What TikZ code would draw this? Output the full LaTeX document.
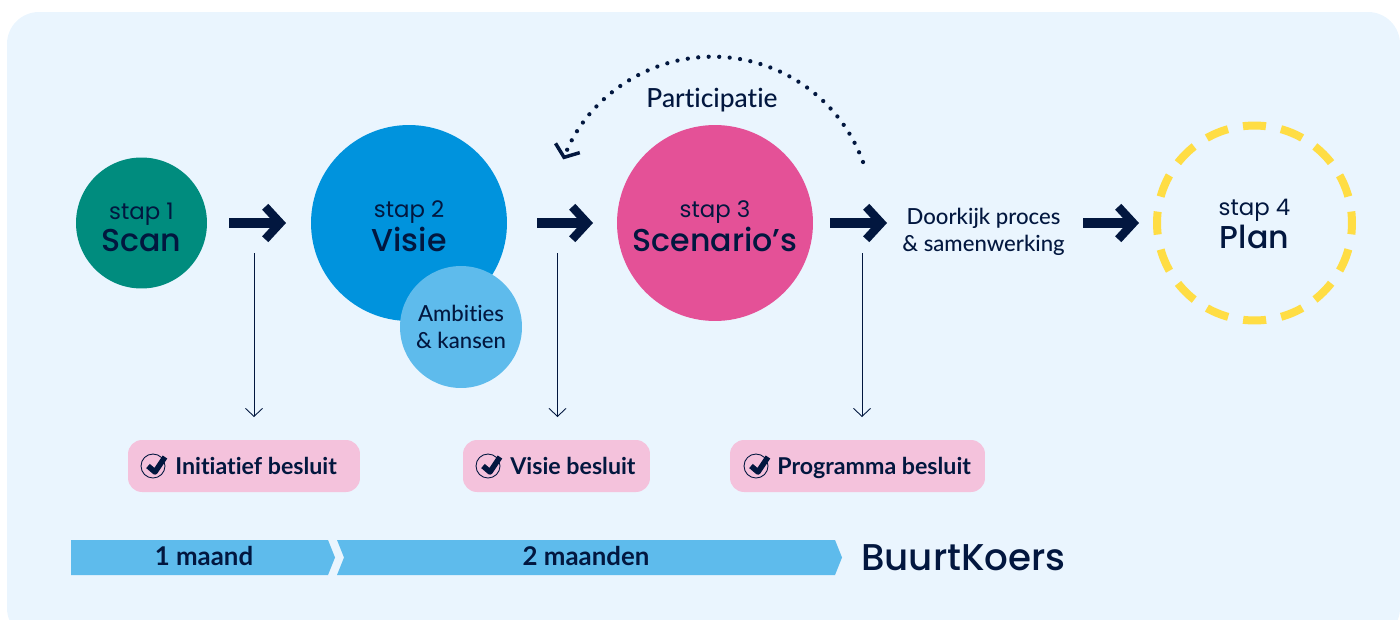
\documentclass[tikz,border=0pt]{standalone}
\usepackage{fontspec}
\setmainfont{Lato Medium}[BoldFont=Lato Bold, Ligatures=NoCommon]
\newfontfamily\headfont{Poppins}
\newfontfamily\headmedium{Poppins Medium}
\usetikzlibrary{positioning, calc, arrows.meta}
\definecolor{panelblue}{HTML}{EAF5FE}
\definecolor{navy}{HTML}{02173F}
\definecolor{scangreen}{HTML}{008C7E}
\definecolor{visieblue}{HTML}{0093DD}
\definecolor{lightblue}{HTML}{5EBBEC}
\definecolor{scenpink}{HTML}{E45197}
\definecolor{planyellow}{HTML}{FFDD44}
\definecolor{besluitpink}{HTML}{F4C2DC}
\newcommand{\stapfont}{\headfont\fontsize{13}{18}\selectfont}
\newcommand{\titelfont}{\headmedium\fontsize{18}{18}\selectfont}
\newcommand{\bodyfont}{\fontsize{12.6}{15.3}\selectfont}
\newcommand{\boldfont}{\bfseries\fontsize{13.2}{15}\selectfont}
\newcommand{\maandfont}{\bfseries\fontsize{14.7}{15}\selectfont}
\tikzset{
  stapcircle/.style={circle, inner sep=0, outer sep=0, text=navy, align=center, text height=32.3pt},
  blockarrow/.style={draw=navy, line width=0.2cm, -{Straight Barb[length=0.3cm, width=0.65cm, line width=0.17cm]}},
  thinarrow/.style={draw=navy, line width=0.5pt, -{Straight Barb[length=0.16cm, width=0.34cm, line width=0.5pt]}},
  besluit/.style={fill=besluitpink, rounded corners=0.28cm, inner sep=0, outer sep=0, text=navy, font=\boldfont},
  checkmark/.pic={
    \draw[navy, line width=0.5pt] (0,0) circle[radius=12];
    \draw[navy, line width=0.11cm, line join=round] (-5,0) -- (2,6) -- (12,-9);
  }
}
\begin{document}
\begin{tikzpicture}[x=0.02cm, y=-0.02cm]
  \useasboundingbox (0,0) rectangle (1400,619);
  \fill[panelblue, rounded corners=0.64cm] (7,12) rectangle (1400,640);

  % circles
  \node[stapcircle, fill=scangreen, minimum size=2.62cm] (scan) at (141.5,223) {{\stapfont stap 1}\\[1.1pt]{\titelfont Scan}};
  \node[stapcircle, fill=visieblue, minimum size=3.92cm] (visie) at (409,223) {{\stapfont stap 2}\\[1.1pt]{\titelfont Visie}};
  \node[circle, inner sep=0, outer sep=0, text=navy, align=center, fill=lightblue, minimum size=2.44cm, font=\bodyfont] (ambities) at (461,327) {Ambities\\\& kansen};
  \node[stapcircle, fill=scenpink, minimum size=3.92cm] (scenario) at (715,223) {{\stapfont stap 3}\\[1.1pt]{\titelfont Scenario’s}};
  \node[stapcircle, text height=28.9pt, draw=planyellow, line width=0.16cm, dash pattern=on 0.46cm off 0.306cm, dash phase=0.23cm, minimum size=3.9cm] (plan) at (1254.5,223) {{\stapfont stap 4}\\[1.1pt]{\titelfont Plan}};
  \node[text=navy, align=center, font=\bodyfont, inner sep=0] (doorkijk) at (983.5,232) {Doorkijk proces\\\& samenwerking};

  % block arrows
  \coordinate (a1s) at (229,223);
  \coordinate (a1e) at (286,223);
  \coordinate (a2s) at (537,223);
  \coordinate (a2e) at (593,223);
  \coordinate (a3s) at (830,223);
  \coordinate (a3e) at (887,223);
  \coordinate (a4s) at (1083,223);
  \coordinate (a4e) at (1139,223);
  \draw[blockarrow] (a1s) -- (a1e);
  \draw[blockarrow] (a2s) -- (a2e);
  \draw[blockarrow] (a3s) -- (a3e);
  \draw[blockarrow] (a4s) -- (a4e);

  % participatie
  \node[text=navy, font={\fontsize{15}{15}\selectfont}, inner sep=0] (participatie) at (712,100) {Participatie};
  \coordinate (parts) at (863,162);
  \draw[navy, line width=0.085cm, line cap=round, dash pattern=on 0pt off 0.21cm,
    -{Straight Barb[length=0.2cm, width=0.52cm, line width=0.07cm]}]
    (parts) arc[start angle=-20, end angle=-159, radius=160];

  % besluiten
  \node[besluit, minimum width=4.64cm, minimum height=1.04cm] (b1) at (244,466) {};
  \node[besluit, minimum width=3.74cm, minimum height=1.04cm] (b2) at (556.5,466) {};
  \node[besluit, minimum width=5.1cm, minimum height=1.04cm] (b3) at (857.5,466) {};
  \pic at (153,466) {checkmark};
  \pic at (488,466) {checkmark};
  \pic at (756,466) {checkmark};
  \node[text=navy, font=\boldfont, inner sep=0, anchor=base west] (t1) at (175,474) {Initiatief besluit};
  \node[text=navy, font=\boldfont, inner sep=0, anchor=base west] (t2) at (510,474) {Visie besluit};
  \node[text=navy, font=\boldfont, inner sep=0, anchor=base west] (t3) at (777,474) {Programma besluit};

  \coordinate (d1s) at (254,253);
  \coordinate (d1e) at (254,417);
  \coordinate (d2s) at (557.5,253);
  \coordinate (d2e) at (557.5,417);
  \coordinate (d3s) at (862,253);
  \coordinate (d3e) at (862,417);
  \draw[thinarrow] (d1s) -- (d1e);
  \draw[thinarrow] (d2s) -- (d2e);
  \draw[thinarrow] (d3s) -- (d3e);

  % tijdbalk
  \fill[lightblue] (71,540) -- (328,540) -- (335,557.5) -- (328,575) -- (71,575) -- cycle;
  \fill[lightblue] (337,540) -- (835,540) -- (842,557.5) -- (835,575) -- (337,575) -- (344,557.5) -- cycle;
  \node[text=navy, font=\maandfont, inner sep=0] (maand1) at (204,556) {1 maand};
  \node[text=navy, font=\maandfont, inner sep=0] (maand2) at (586,556) {2 maanden};
  \node[text=navy, inner sep=0, anchor=base west, font={\headmedium\fontsize{21.2}{21}\selectfont}] (koers) at (861,570) {BuurtKoers};
\end{tikzpicture}
\end{document}
